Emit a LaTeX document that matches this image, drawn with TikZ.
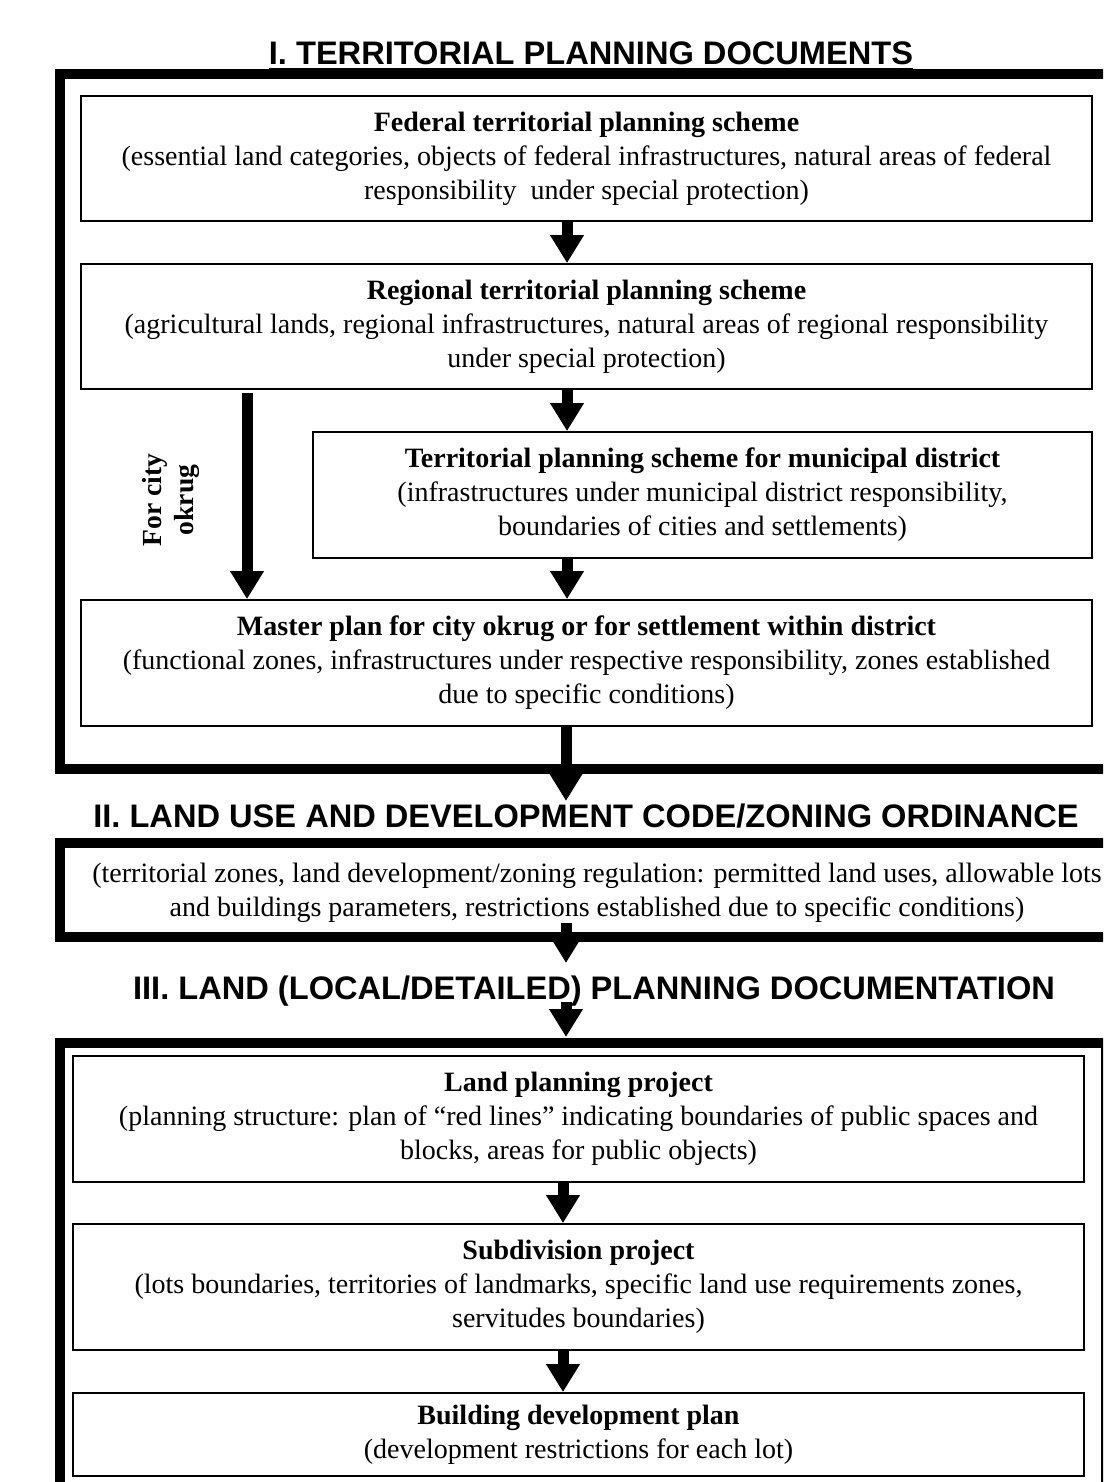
\documentclass[tikz,border=0pt]{standalone}
\usepackage{fontspec}
\setmainfont{Liberation Serif}
\newfontfamily\hdfont{Liberation Sans}
\usetikzlibrary{arrows.meta}
\begin{document}
\begin{tikzpicture}[x=0.5pt,y=-0.5pt,
  frame/.style={draw, line width=5.3pt},
  box/.style={draw, line width=0.9pt, align=center, inner sep=0pt,
    font=\fontsize{14}{17}\selectfont},
  sectitle/.style={inner sep=0pt, anchor=base, font=\hdfont\bfseries\fontsize{16.3}{19}\selectfont},
  bigarrow/.style={line width=5.5pt, -{Triangle[width=16pt,length=14pt]}},
  plain/.style={inner sep=0pt, align=center, font=\fontsize{14}{17}\selectfont}]
\path[use as bounding box] (0,0) rectangle (1103,1482);
\clip (0,0) rectangle (1103,1482);
\fill[white] (0,0) rectangle (1103,1482);

% frames
\draw[frame] (60,74) rectangle (1115,769);
\draw[frame] (60,843) rectangle (1134,937);
\draw[frame] (60,1043) rectangle (1106,1560);

% titles
\node[sectitle] (t1) at (591,65) {I. TERRITORIAL PLANNING DOCUMENTS};
\draw[line width=1pt] ([yshift=-1.8pt]t1.base west) -- ([yshift=-1.8pt]t1.base east);
\node[sectitle] (t2) at (586,827) {II. LAND USE AND DEVELOPMENT CODE/ZONING ORDINANCE};
\node[sectitle] (t3) at (594,999) {III. LAND (LOCAL/DETAILED) PLANNING DOCUMENTATION};

% section I boxes
\node[box, minimum width=505.5pt, minimum height=62.5pt] (fed) at (586.5,158.5)
  {\textbf{Federal territorial planning scheme}\\
   (essential land categories, objects of federal infrastructures, natural areas of federal\\
   responsibility\ \ under special protection)};
\node[box, minimum width=505.5pt, minimum height=62.5pt] (reg) at (586.5,326.5)
  {\textbf{Regional territorial planning scheme}\\
   (agricultural lands, regional infrastructures, natural areas of regional responsibility\\
   under special protection)};
\node[box, minimum width=389.5pt, minimum height=63pt] (mun) at (702.5,495)
  {\textbf{Territorial planning scheme for municipal district}\\
   (infrastructures under municipal district responsibility,\\
   boundaries of cities and settlements)};
\node[box, minimum width=505.5pt, minimum height=63pt] (mas) at (586.5,663)
  {\textbf{Master plan for city okrug or for settlement within district}\\
   (functional zones, infrastructures under respective responsibility, zones established\\
   due to specific conditions)};
\node[plain, rotate=90, font=\bfseries\fontsize{13.8}{16}\selectfont] (city) at (171,500) {For city\\okrug};

% section II text
\node[plain] (code) at (597,893)
  {(territorial zones, land development/zoning regulation: permitted land uses, allowable lots\\
   and buildings parameters, restrictions established due to specific conditions)};

% section III boxes
\node[box, minimum width=505.5pt, minimum height=63pt] (lpp) at (578.5,1119)
  {\textbf{Land planning project}\\
   (planning structure: plan of “red lines” indicating boundaries of public spaces and\\
   blocks, areas for public objects)};
\node[box, minimum width=505.5pt, minimum height=63pt] (sub) at (578.5,1287)
  {\textbf{Subdivision project}\\
   (lots boundaries, territories of landmarks, specific land use requirements zones,\\
   servitudes boundaries)};
\node[box, minimum width=505.5pt, minimum height=41.5pt] (bdp) at (578.5,1434.5)
  {\textbf{Building development plan}\\
   (development restrictions for each lot)};

% arrow axes
\coordinate (ax) at (567,0);
\coordinate (bx) at (566,0);
\coordinate (cx) at (563,0);
\coordinate (ox) at (247,0);
\coordinate (a6s) at (566,923);
\coordinate (a6e) at (566,963);
\coordinate (f3top) at (566,1037);

\draw[bigarrow] (fed.south -| ax) -- (reg.north -| ax);
\draw[bigarrow] (reg.south -| ax) -- (mun.north -| ax);
\draw[bigarrow] (mun.south -| ax) -- (mas.north -| ax);
\draw[bigarrow] ([yshift=-1.5pt]reg.south -| ox) -- (mas.north -| ox);
\draw[bigarrow] (mas.south -| bx) -- ([yshift=1pt]t2.north -| bx);
\draw[bigarrow] (a6s) -- (a6e);
\draw[bigarrow] ([yshift=2pt]t3.south -| bx) -- (f3top);
\draw[bigarrow] (lpp.south -| cx) -- (sub.north -| cx);
\draw[bigarrow] (sub.south -| cx) -- (bdp.north -| cx);
\end{tikzpicture}
\end{document}
